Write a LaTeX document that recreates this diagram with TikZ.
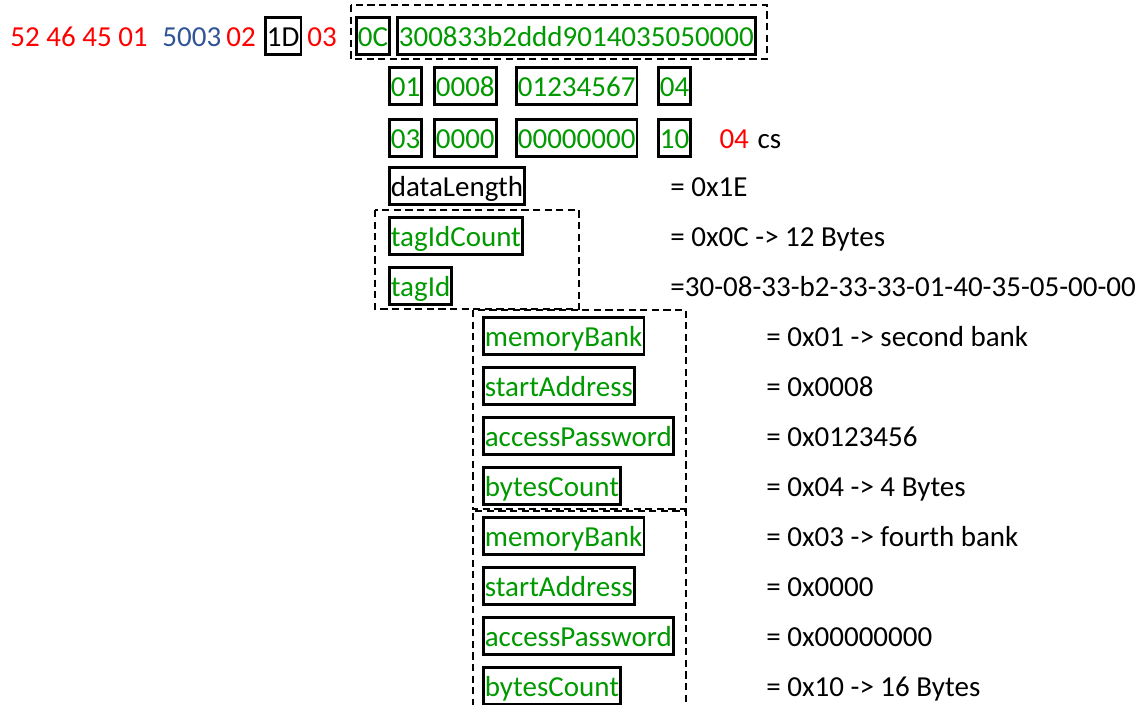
\documentclass[tikz,border=0pt]{standalone}
\usepackage{fontspec}
\setmainfont{Carlito}
\usepackage{tikz}
\usetikzlibrary{positioning}
\usepackage{xcolor}
\definecolor{hexred}{RGB}{255,0,0}
\definecolor{hexblue}{RGB}{47,85,151}
\definecolor{hexgreen}{RGB}{0,153,0}
\newcommand{\hexfont}{\fontsize{14.5}{17}\selectfont}

\begin{document}
\begin{tikzpicture}[x=0.5pt,y=-0.5pt,
  txt/.style={font=\hexfont,inner xsep=0pt,inner ysep=1pt,text height=13.5pt,text depth=3pt,anchor=west},
  fld/.style={txt,draw,line width=1.35pt,inner xsep=0.75pt},
  grp/.style={dashed,dash pattern=on 3.6pt off 2.2pt,line width=1.15pt}]
\useasboundingbox (0,0) rectangle (1145,705);

% frame header
\node (hdr)  [txt,text=hexred]  at (10,36)  {52 46 45 01};
\node (cmd)  [txt,text=hexblue] at (162,36) {5003};
\node (seq)  [txt,text=hexred]  at (226,36) {02};
\node (len)  [fld]              at (264,36) {1D};
\node (stx)  [txt,text=hexred]  at (307,36) {03};
\node (cnt)  [fld,text=hexgreen] at (355,36) {0C};
\node (tid)  [fld,text=hexgreen] at (396,36) {300833b2ddd9014035050000};
\draw[grp] (351,5) rectangle (767,59);

% two read requests
\node (a1) [fld,text=hexgreen] at (388,86) {01};
\node (a2) [fld,text=hexgreen] at (433,86) {0008};
\node (a3) [fld,text=hexgreen] at (515,86) {01234567};
\node (a4) [fld,text=hexgreen] at (657,86) {04};
\node (b1) [fld,text=hexgreen,below=6pt of a1] {03};
\node (b2) [fld,text=hexgreen,below=6pt of a2] {0000};
\node (b3) [fld,text=hexgreen,below=6pt of a3] {00000000};
\node (b4) [fld,text=hexgreen,below=6pt of a4] {10};
\node (etx) [txt,text=hexred,right=13.5pt of b4] {04};
\node (cs)  [txt,right=4pt of etx] {cs};

% field names and values
\node (f1) [fld]                at (388,186) {dataLength};
\node (f2) [fld,text=hexgreen]  at (388,236) {tagIdCount};
\node (f3) [fld,text=hexgreen]  at (388,286) {tagId};
\node (v1) [txt] at (670,186) {= 0x1E};
\node (v2) [txt] at (670,236) {= 0x0C -> 12 Bytes};
\node (v3) [txt] at (670,286) {=30-08-33-b2-33-33-01-40-35-05-00-00};
\draw[grp] (375,210) rectangle (579,309);

\node (m1) [fld,text=hexgreen] at (482,336) {memoryBank};
\node (m2) [fld,text=hexgreen] at (482,386) {startAddress};
\node (m3) [fld,text=hexgreen] at (482,436) {accessPassword};
\node (m4) [fld,text=hexgreen] at (482,486) {bytesCount};
\node (w1) [txt] at (766,336) {= 0x01 -> second bank};
\node (w2) [txt] at (766,386) {= 0x0008};
\node (w3) [txt] at (766,436) {= 0x0123456};
\node (w4) [txt] at (766,486) {= 0x04 -> 4 Bytes};
\draw[grp] (473,310) rectangle (686,509);

\node (n1) [fld,text=hexgreen] at (482,536) {memoryBank};
\node (n2) [fld,text=hexgreen] at (482,586) {startAddress};
\node (n3) [fld,text=hexgreen] at (482,636) {accessPassword};
\node (n4) [fld,text=hexgreen] at (482,686) {bytesCount};
\node (x1) [txt] at (766,536) {= 0x03 -> fourth bank};
\node (x2) [txt] at (766,586) {= 0x0000};
\node (x3) [txt] at (766,636) {= 0x00000000};
\node (x4) [txt] at (766,686) {= 0x10 -> 16 Bytes};
\draw[grp] (473,706) -- (473,511) -- (686,511) -- (686,706);
\end{tikzpicture}
\end{document}
